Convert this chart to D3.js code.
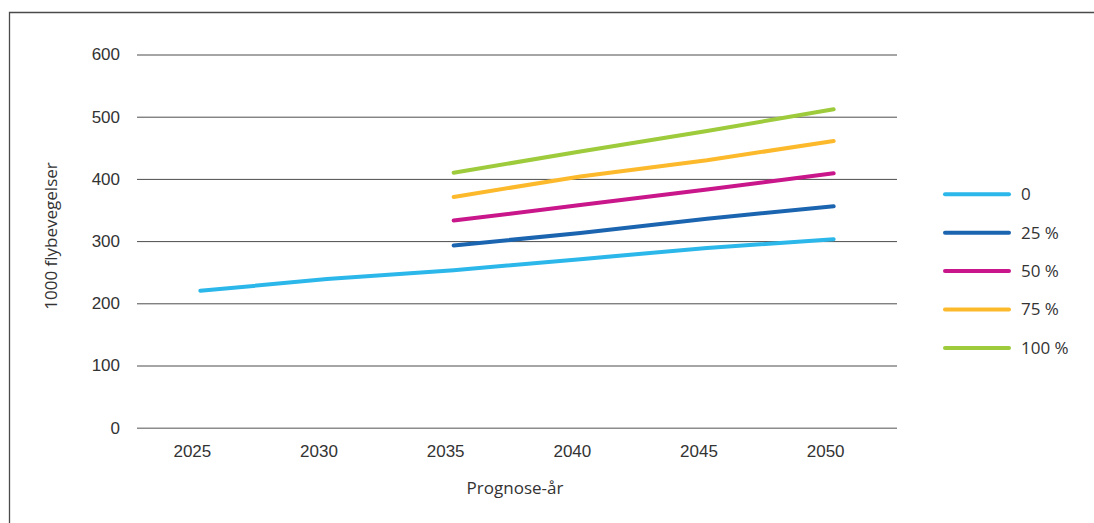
<!DOCTYPE html>
<html>
<head>
<meta charset="utf-8">
<script src="https://cdn.jsdelivr.net/npm/d3@7"></script>
<style>
  body { margin: 0; background: #fff; }
  svg { display: block; font-family: "Open Sans", "Noto Sans", sans-serif; }
</style>
</head>
<body>
<svg id="chart" width="1094" height="523"></svg>
<script>
(function() {

  var years = ['2025', '2030', '2035', '2040', '2045', '2050'];
  var yTicks = [0, 100, 200, 300, 400, 500, 600];
  var seriesNames = ['0', '25 %', '50 %', '75 %', '100 %'];
  var seriesColors = ['#2bb7ea', '#1b64b0', '#c9168a', '#fcb92b', '#9dcb3b'];

  // 1000 flybevegelser per prognose-år (null = ingen verdi)
  var s0   = [220, 239, 253, 271, 289, 303];
  var s25  = [null, null, 293, 313, 336, 356];
  var s50  = [null, null, 333, 358, 383, 409];
  var s75  = [null, null, 371, 404, 430, 461];
  var s100 = [null, null, 410, 444, 477, 512];
  var seriesValues = [s0, s25, s50, s75, s100];

  var fontSize = '17px';
  var svg = d3.select('#chart');

  // ramme
  svg.append('path')
    .attr('d', 'M9.5,530V12.5H1100')
    .attr('fill', 'none')
    .attr('stroke', '#4a4a4a')
    .attr('stroke-width', 1.3);

  var x = d3.scaleBand().domain(years).range([137, 897]);
  var y = d3.scaleLinear().domain([0, 600]).range([427.7, 54.5]);

  // rutenett + y-akse
  var yAxis = svg.append('g')
    .attr('transform', 'translate(137,0)')
    .call(d3.axisLeft(y).tickValues(yTicks).tickSize(-760).tickPadding(17));
  yAxis.select('.domain').remove();
  yAxis.selectAll('.tick line')
    .attr('stroke', function(d) { return d === 0 ? '#8c8c8c' : '#4d4d4d'; })
    .attr('stroke-width', function(d) { return d === 0 ? 1.6 : 1; });
  yAxis.selectAll('.tick text')
    .attr('fill', '#333')
    .style('font-size', fontSize);

  // x-akse
  var xAxis = svg.append('g')
    .attr('transform', 'translate(0,' + y(0) + ')')
    .call(d3.axisBottom(x).tickSize(0).tickPadding(17));
  xAxis.select('.domain').remove();
  xAxis.selectAll('.tick text')
    .attr('fill', '#333')
    .attr('dx', -8)
    .style('font-size', fontSize);

  // linjer
  var line = d3.line()
    .defined(function(d) { return d != null; })
    .x(function(d, i) { return x(years[i]) + x.bandwidth() / 2; })
    .y(function(d) { return y(d); });

  svg.selectAll('.serie')
    .data(seriesValues)
    .enter()
    .append('path')
    .attr('class', 'serie')
    .attr('d', line)
    .attr('fill', 'none')
    .attr('stroke', function(d, i) { return seriesColors[i]; })
    .attr('stroke-width', 4)
    .attr('stroke-linecap', 'round')
    .attr('stroke-linejoin', 'round');

  // tegnforklaring
  var legend = svg.selectAll('.legend')
    .data(seriesNames)
    .enter()
    .append('g')
    .attr('class', 'legend')
    .attr('transform', function(d, i) { return 'translate(945,' + (194.3 + i * 38.4) + ')'; });

  legend.append('line')
    .attr('x1', 0).attr('x2', 64)
    .attr('stroke', function(d, i) { return seriesColors[i]; })
    .attr('stroke-width', 4)
    .attr('stroke-linecap', 'round');

  legend.append('text')
    .attr('x', 76)
    .attr('dy', '0.35em')
    .attr('fill', '#333')
    .style('font-size', fontSize)
    .text(function(d) { return d; });

  // aksetitler
  svg.append('text')
    .attr('x', 515)
    .attr('y', 494)
    .attr('text-anchor', 'middle')
    .attr('fill', '#333')
    .style('font-size', fontSize)
    .text('Prognose-år');

  svg.append('text')
    .attr('transform', 'translate(57,236) rotate(-90)')
    .attr('text-anchor', 'middle')
    .attr('fill', '#333')
    .style('font-size', fontSize)
    .text('1000 flybevegelser');
})();
</script>
</body>
</html>
